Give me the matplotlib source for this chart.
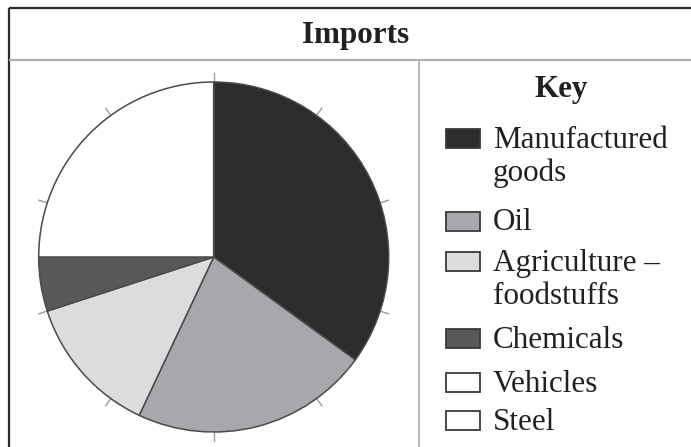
import numpy as np
import matplotlib
matplotlib.use("Agg")
import matplotlib.pyplot as plt
from matplotlib.patches import Rectangle

# ---- data ----
categories = ["Manufactured goods", "Oil", "Agriculture – foodstuffs", "Chemicals", "Vehicles", "Steel"]
legend_labels = ["Manufactured\ngoods", "Oil", "Agriculture –\nfoodstuffs", "Chemicals", "Vehicles", "Steel"]
values = [35, 22, 13, 5, 25, 0]
colors = ["#2d2b2c", "#a7a8ab", "#dcdcde", "#58585a", "#ffffff", "#ffffff"]
title = "Imports"
key_title = "Key"

W, H = 691, 447
DPI = 100
fig = plt.figure(figsize=(W / DPI, H / DPI), dpi=DPI)
fig.patch.set_facecolor("white")

serif = ["Liberation Serif", "DejaVu Serif"]
txtc = "#231f20"
FS = 22.4

# overlay axes in pixel coordinates
ov = fig.add_axes([0, 0, 1, 1])
ov.set_xlim(0, W)
ov.set_ylim(H, 0)
ov.axis("off")

# frame lines
ov.plot([9, W], [7.5, 7.5], color="#2a2a2a", lw=1.6, solid_capstyle="butt")
ov.plot([9, 9], [7.5, H], color="#2a2a2a", lw=1.6, solid_capstyle="butt")
ov.plot([9, W], [59.5, 59.5], color="#b0b0b4", lw=1.6, solid_capstyle="butt")
ov.plot([419.5, 419.5], [59.5, H], color="#b8b8bc", lw=1.4, solid_capstyle="butt")

ov.text(356, 43.5, title, fontsize=FS, fontweight="bold", family=serif,
        color=txtc, ha="center", va="baseline")

# ---- pie ----
cx, cy, R = 213.7, 257.0, 175.0
ext = 1.1
size = R * ext * 2
pax = fig.add_axes([(cx - R * ext) / W, 1 - (cy + R * ext) / H, size / W, size / H])
pax.pie(values, colors=colors, startangle=90, counterclock=False, radius=1.0,
        wedgeprops=dict(edgecolor="#4a4a4a", linewidth=1.1))
pax.set_xlim(-ext, ext)
pax.set_ylim(-ext, ext)
pax.set_aspect("equal")
pax.axis("off")

# percentage tick marks every 10 %
for k in range(10):
    ang = np.deg2rad(90 - 36 * k)
    r0, r1 = 0.99, 1.05
    pax.plot([r0 * np.cos(ang), r1 * np.cos(ang)], [r0 * np.sin(ang), r1 * np.sin(ang)],
             color="#9a9a9a", lw=1.0, zorder=0)

# ---- key ----
ov.text(561, 97, key_title, fontsize=FS, fontweight="bold", family=serif,
        color=txtc, ha="center", va="baseline")
box_centers = [138, 221, 261, 338, 382, 420]
line_gap = 34
for lab, col, yc in zip(legend_labels, colors, box_centers):
    ov.add_patch(Rectangle((446.5, yc - 9.5), 33.5, 19, facecolor=col,
                           edgecolor="#3a3a3a", lw=1.3))
    for i, part in enumerate(lab.split("\n")):
        ov.text(493, yc + 9.5 + i * line_gap, part, fontsize=FS, family=serif,
                color=txtc, ha="left", va="baseline")

fig.savefig("out.png", dpi=DPI)
